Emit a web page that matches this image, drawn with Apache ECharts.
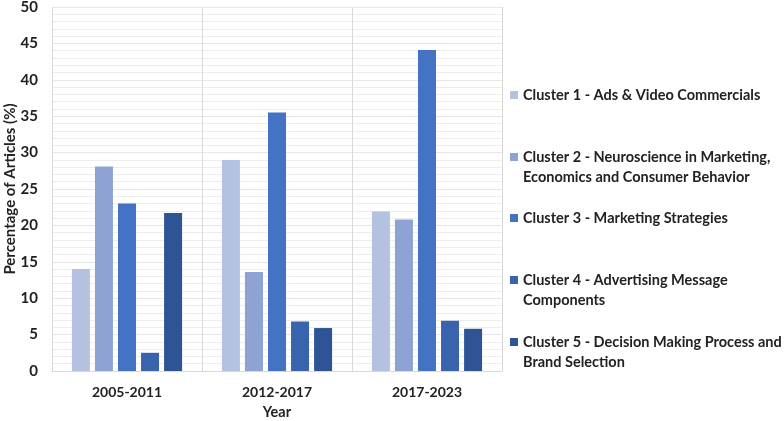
<!DOCTYPE html>
<html>
<head>
<meta charset="utf-8">
<script src="https://cdn.jsdelivr.net/npm/echarts@6/dist/echarts.min.js"></script>
<style>
    html, body { margin: 0; padding: 0; background: #fff; }
    #main { width: 784px; height: 421px; }
</style>
</head>
<body>
<div id="main"></div>
<script>
var periods = ['2005-2011', '2012-2017', '2017-2023'];
var clusterNames = [
    'Cluster 1 - Ads & Video Commercials',
    'Cluster 2 - Neuroscience in Marketing,',
    'Cluster 3 - Marketing Strategies',
    'Cluster 4 - Advertising Message',
    'Cluster 5 - Decision Making Process and'
];
// second line of the wrapped legend labels
var clusterNamesLine2 = ['', 'Economics and Consumer Behavior', '', 'Components', 'Brand Selection'];
var cluster1 = [14.0, 29.0, 21.9];
var cluster2 = [28.1, 13.6, 20.8];
var cluster3 = [23.0, 35.5, 44.1];
var cluster4 = [2.5, 6.8, 6.9];
var cluster5 = [21.7, 5.9, 5.8];
var colors = ['#b4c1e1', '#8ea3d3', '#4472c4', '#3a63ae', '#2f5496'];
var legendCenters = [95, 157, 218, 280, 342];

var font = 'Lato, "Open Sans", sans-serif';
var txtColor = '#222';
var chart = echarts.init(document.getElementById('main'));

var allData = [cluster1, cluster2, cluster3, cluster4, cluster5];
var series = [];
var legends = [];
var graphics = [];
for (var i = 0; i < 5; i++) {
    series.push({
        name: clusterNames[i],
        type: 'bar',
        data: allData[i],
        barWidth: 18,
        barGap: '28%',
        itemStyle: { color: colors[i] }
    });
    legends.push({
        data: [clusterNames[i]],
        left: 510,
        top: legendCenters[i] - 8,
        padding: 0,
        itemWidth: 8,
        itemHeight: 8,
        icon: 'rect',
        selectedMode: false,
        textStyle: {
            fontFamily: font,
            fontWeight: 'bold',
            fontSize: 14.5,
            lineHeight: 16,
            color: txtColor
        }
    });
    if (clusterNamesLine2[i]) {
        graphics.push({
            type: 'text',
            left: 523,
            top: legendCenters[i] + 20.5 - 8,
            style: {
                text: clusterNamesLine2[i],
                fontFamily: font,
                fontWeight: 'bold',
                fontSize: 14.5,
                lineHeight: 16,
                fill: txtColor
            }
        });
    }
}

var option = {
    animation: false,
    textStyle: { fontFamily: font },
    grid: { left: 52, right: 282, top: 7, bottom: 50, containLabel: false, outerBoundsMode: 'none' },
    legend: legends,
    graphic: graphics,
    xAxis: {
        type: 'category',
        data: periods,
        name: 'Year',
        nameLocation: 'middle',
        nameGap: 34,
        nameMoveOverlap: false,
        nameTextStyle: { fontFamily: font, fontWeight: 'bold', fontSize: 14.5, color: txtColor },
        axisLine: { lineStyle: { color: '#d9d9d9' } },
        axisTick: { show: false },
        axisLabel: { fontFamily: font, fontWeight: 'bold', fontSize: 14, color: txtColor, margin: 14 },
        splitLine: { show: true, lineStyle: { color: '#d9d9d9' } }
    },
    yAxis: {
        type: 'value',
        min: 0,
        max: 50,
        interval: 5,
        name: 'Percentage of Articles (%)',
        nameLocation: 'middle',
        nameGap: 34,
        nameMoveOverlap: false,
        nameTextStyle: { fontFamily: font, fontWeight: 'bold', fontSize: 15, color: txtColor },
        axisLine: { show: false },
        axisTick: { show: false },
        axisLabel: { fontFamily: font, fontWeight: 'bold', fontSize: 15, color: txtColor, margin: 14 },
        splitLine: { lineStyle: { color: '#e6e6e6' } },
        minorTick: { show: false, splitNumber: 5 },
        minorSplitLine: { show: true, lineStyle: { color: '#ededed' } }
    },
    series: series
};
chart.setOption(option);
</script>
</body>
</html>
